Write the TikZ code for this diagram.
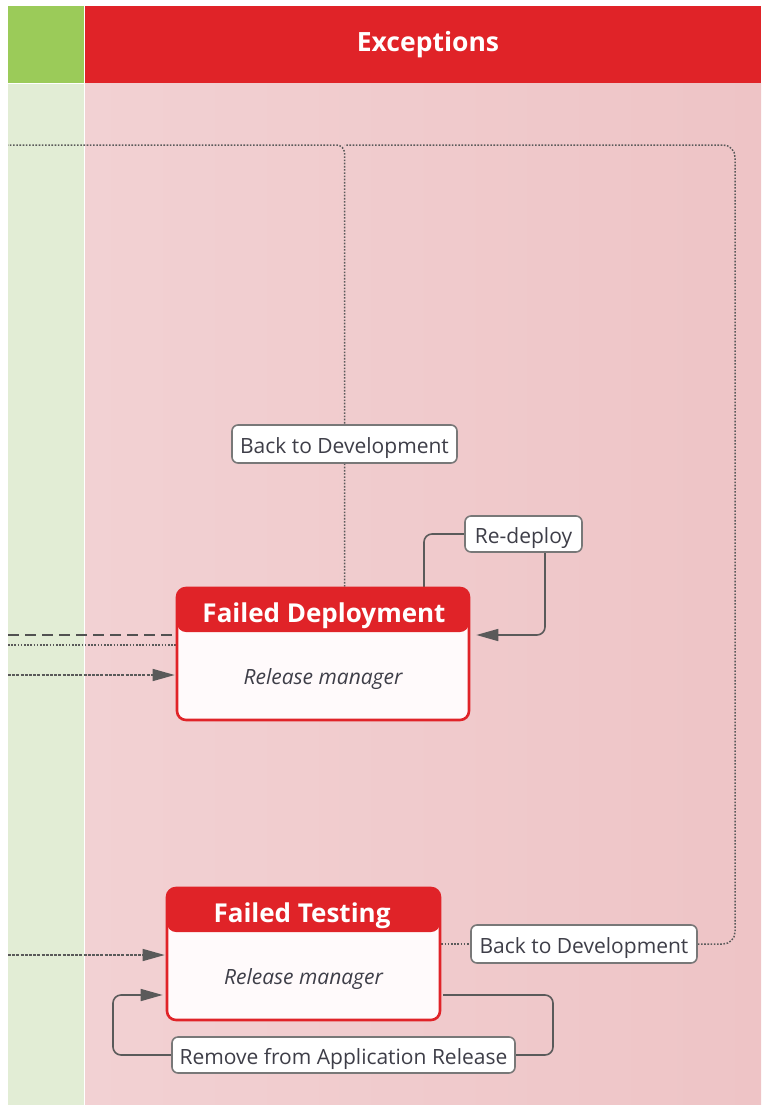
\documentclass[tikz,border=0pt]{standalone}
\usepackage{fontspec}
\setmainfont{Open Sans}
\usetikzlibrary{arrows.meta,calc}

\definecolor{exred}{RGB}{224,35,40}
\definecolor{hdrgreen}{RGB}{155,203,89}
\definecolor{lanegreen}{RGB}{226,237,213}
\definecolor{lanepinkL}{RGB}{242,209,211}
\definecolor{lanepinkR}{RGB}{238,196,198}
\definecolor{bodywhite}{RGB}{255,250,251}
\definecolor{linegray}{RGB}{90,90,90}
\definecolor{labelgray}{RGB}{120,120,120}
\definecolor{labeltext}{RGB}{62,62,72}

\pgfdeclarelayer{lanes}
\pgfdeclarelayer{wires}
\pgfsetlayers{lanes,wires,main}

\tikzset{
  lanehead/.style={text=white, font=\fontsize{26.5}{30}\selectfont\bfseries, anchor=base, inner sep=0pt},
  task/.style={draw=exred, line width=2.6pt, fill=bodywhite, rounded corners=9pt,
    minimum height=132pt,
    path picture={\fill[exred] (path picture bounding box.north west)
      rectangle ([yshift=-44pt]path picture bounding box.north east);}},
  tasktitle/.style={text=white, font=\fontsize{26}{30}\selectfont\bfseries, inner sep=0pt, anchor=base},
  taskrole/.style={text=labeltext, font=\fontsize{21}{25}\selectfont\itshape, inner sep=0pt, anchor=base},
  flowlabel/.style={draw=labelgray, line width=1.6pt, fill=white, rounded corners=6pt,
    text=labeltext, font=\fontsize{21}{25}\selectfont, inner sep=0pt,
    text height=18pt, text depth=0pt},
  dotline/.style={draw=linegray, line width=1.5pt, dash pattern=on 1.6pt off 1.6pt},
  fineline/.style={draw=linegray, line width=1.4pt, dash pattern=on 3pt off 1.2pt},
  longdash/.style={draw=linegray!90!black, line width=1.6pt, dash pattern=on 11pt off 6pt},
  loopline/.style={draw=linegray, line width=1.6pt},
  tip/.style={-{Triangle[length=22pt,width=12pt]}}
}

\begin{document}
\begin{tikzpicture}[x=1pt,y=-1pt]
\useasboundingbox (0,0) rectangle (761,1105);

% swimlanes
\begin{pgfonlayer}{lanes}
  \fill[white] (0,0) rectangle (761,1105);
  \fill[lanegreen] (8,84) rectangle (84,1105);
  \shade[left color=lanepinkL, right color=lanepinkR] (85,84) rectangle (761,1105);
  \fill[hdrgreen] (8,6) rectangle (84,83);
  \fill[exred] (85,6) rectangle (761,83);
\end{pgfonlayer}
\node[lanehead] (exhead) at (428,52) {Exceptions};

% tasks
\node[task, minimum width=292pt] (FD) at (323,654) {};
\node[tasktitle] (FDtitle) at (324,622) {Failed Deployment};
\node[taskrole] (FDrole) at (323,684) {Release manager};

\node[task, minimum width=273pt] (FT) at (303.5,954) {};
\node[tasktitle] (FTtitle) at (302,922) {Failed Testing};
\node[taskrole] (FTrole) at (303.5,984) {Release manager};

% transition labels
\node[flowlabel, minimum width=225pt, minimum height=38pt] (back1) at (344.5,444) {Back to Development};
\node[flowlabel, minimum width=117pt, minimum height=36pt] (redeploy) at (523.5,534) {Re-deploy};
\node[flowlabel, minimum width=226pt, minimum height=38pt] (back2) at (584,944) {Back to Development};
\node[flowlabel, minimum width=343pt, minimum height=36pt] (remove) at (343.5,1055) {Remove from Application Release};

% free ends at the left border
\coordinate (outA) at (8,145);
\coordinate (joinA) at (344.5,145);
\coordinate (outB) at (8,635);
\coordinate (outC) at (8,645);
\coordinate (outD) at (8,675);
\coordinate (outE) at (8,955);

\begin{pgfonlayer}{wires}
  % back to development from both failures
  \draw[dotline, rounded corners=8pt] (back1 |- FD.north) -- (joinA) -- (outA);
  \draw[dotline] (FT.east |- back2) -- (back2.west);
  \draw[dotline, rounded corners=12pt] (back2.east) -- (735,944) -- (735,145) -- (joinA);

  % incoming flows from the left lane
  \draw[longdash] (outB) -- (FD.west |- outB);
  \draw[dotline] (outC) -- (FD.west |- outC);
  \draw[fineline, tip] (outD) -- ([xshift=-1pt]FD.west |- outD);
  \draw[fineline, tip] (outE) -- ([xshift=-1pt]FT.west |- outE);

  % re-deploy loop
  \draw[loopline, rounded corners=8pt] (424,588) -- (424,534) -- (redeploy.west);
  \draw[loopline, rounded corners=8pt, tip] (545,552) -- (545,635) -- ([xshift=6pt]FD.east |- outB);

  % remove from application release loop
  \draw[loopline, rounded corners=8pt] (443,995) -- (553,995) -- (553,1055) -- (remove.east);
  \draw[loopline, rounded corners=8pt, tip] (remove.west) -- (113,1055) -- (113,995) -- ([xshift=-3pt]FT.west |- 0,995);
\end{pgfonlayer}
\end{tikzpicture}
\end{document}
